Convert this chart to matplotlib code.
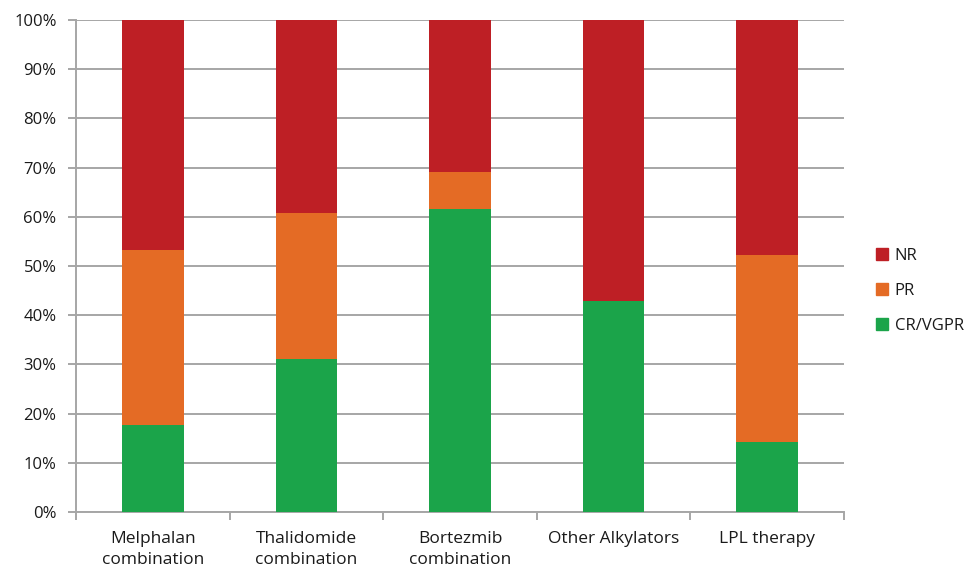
import numpy as np
import matplotlib.pyplot as plt
from matplotlib.patches import Patch
from matplotlib.ticker import PercentFormatter

plt.rcParams['font.family'] = ['Open Sans', 'DejaVu Sans']

categories = ['Melphalan\ncombination', 'Thalidomide\ncombination',
              'Bortezmib\ncombination', 'Other Alkylators', 'LPL therapy']
cr_vgpr = [17.6, 31.0, 61.6, 42.9, 14.3]
pr = [35.6, 29.7, 7.6, 0.0, 38.0]
nr = [46.8, 39.3, 30.8, 57.1, 47.7]

c_nr = '#BE1F25'
c_pr = '#E46B25'
c_cr = '#1BA44A'
grid_c = '#A6A6A6'
txt_c = '#1a1a1a'


def main():
    fig = plt.figure(figsize=(9.72, 5.69), dpi=100)
    ax = fig.add_axes([0.0782, 0.1002, 0.7901, 0.8647])

    x = np.arange(len(categories))
    w = 0.40
    cr = np.array(cr_vgpr)
    p = np.array(pr)
    n = np.array(nr)
    ax.bar(x, cr, w, color=c_cr, zorder=3)
    ax.bar(x, p, w, bottom=cr, color=c_pr, zorder=3)
    ax.bar(x, n, w, bottom=cr + p, color=c_nr, zorder=3)

    ax.set_xlim(-0.5, len(categories) - 0.5)
    ax.set_ylim(0, 100)
    ax.set_yticks(np.arange(0, 101, 10))
    ax.yaxis.set_major_formatter(PercentFormatter(decimals=0))
    ax.yaxis.grid(True, color=grid_c, linewidth=1.4, zorder=0)

    # category labels centred, ticks on the boundaries
    ax.set_xticks(x)
    ax.set_xticklabels(categories, fontsize=12.5, color=txt_c, linespacing=1.35)
    ax.tick_params(axis='x', length=0, pad=14)
    ax.set_xticks(np.arange(-0.5, len(categories)), minor=True)
    ax.tick_params(axis='x', which='minor', length=6, width=1.4, color=grid_c)
    ax.tick_params(axis='y', length=6, width=1.4, color=grid_c,
                   labelsize=12, labelcolor=txt_c, pad=8)

    for s in ['top', 'right']:
        ax.spines[s].set_visible(False)
    for s in ['left', 'bottom']:
        ax.spines[s].set_color(grid_c)
        ax.spines[s].set_linewidth(1.4)

    handles = [Patch(color=c_nr, label='NR'),
               Patch(color=c_pr, label='PR'),
               Patch(color=c_cr, label='CR/VGPR')]
    fig.legend(handles=handles, loc='center left', bbox_to_anchor=(0.893, 0.489),
               frameon=False, fontsize=12, labelcolor=txt_c,
               handlelength=0.7, handleheight=0.7,
               handletextpad=0.4, labelspacing=1.15, borderpad=0)

    plt.savefig('out.png', dpi=100)
    plt.close()


if __name__ == "__main__":
    main()
